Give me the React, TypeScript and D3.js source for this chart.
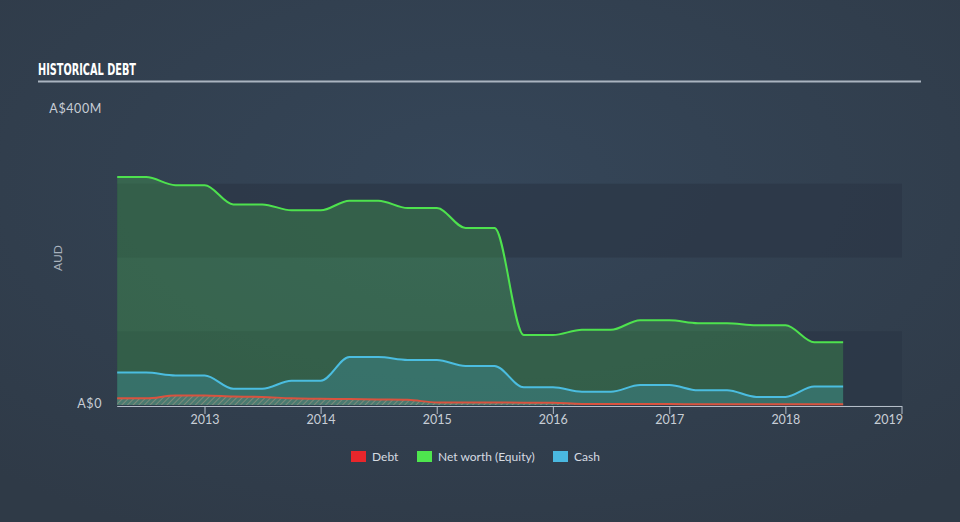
import React from "react";
import * as d3 from "d3";

const dates: string[] = [
  "2012-03-31","2012-06-30","2012-09-30","2012-12-31",
  "2013-03-31","2013-06-30","2013-09-30","2013-12-31",
  "2014-03-31","2014-06-30","2014-09-30","2014-12-31",
  "2015-03-31","2015-06-30","2015-09-30","2015-12-31",
  "2016-03-31","2016-06-30","2016-09-30","2016-12-31",
  "2017-03-31","2017-06-30","2017-09-30","2017-12-31",
  "2018-03-31","2018-06-30",
];
const equity: number[] = [309,309,298,298,272,272,264,264,277,277,267,267,240,240,95,95,102,102,115,115,111,111,108,108,85,85];
const cash: number[] = [44,44,40,40,22,22,33,33,65,65,61,61,53,53,24,24,18,18,27,27,20,20,11,11,25,25];
const debt: number[] = [9,9,13,13,11.5,11,9,8.5,8,7.5,7,3.5,3.5,3.3,3.2,3,1.5,1.5,1.3,1.2,1.1,1,1,1,1,1];
const xTickYears: number[] = [2013,2014,2015,2016,2017,2018,2019];
const darkBands: number[] = [0,200];
const legendItems = [
  { label: "Debt", color: "#e8262b" },
  { label: "Net worth (Equity)", color: "#4ee64e" },
  { label: "Cash", color: "#4ab8e0" },
];

const W = 960, H = 522;
const LABEL_FONT = "Lato, 'Open Sans', sans-serif";

export default function App() {
  const parse = d3.timeParse("%Y-%m-%d");
  const ds = dates.map((d) => parse(d) as Date);
  const x = d3.scaleTime()
    .domain([new Date(2013, 0, 1), new Date(2019, 0, 1)])
    .range([205, 902]);
  const y = d3.scaleLinear().domain([0, 400]).range([405, 110]);
  const curve = d3.curveMonotoneX;

  const mk = (vals: number[]) => {
    const area = d3.area<number>().x((_, i) => x(ds[i])).y0(y(0)).y1((v) => y(v)).curve(curve);
    const line = d3.line<number>().x((_, i) => x(ds[i])).y((v) => y(v)).curve(curve);
    return { area: area(vals) || "", line: line(vals) || "" };
  };
  const eq = mk(equity), ca = mk(cash), de = mk(debt);

  const plotLeft = x(ds[0]);
  const plotRight = x(new Date(2019, 0, 1));

  return (
    <svg width={W} height={H} style={{ position: "absolute", left: 0, top: 0, display: "block" }}>
      <defs>
        <radialGradient id="bg" cx="50%" cy="35%" r="75%">
          <stop offset="0%" stopColor="#354659" />
          <stop offset="100%" stopColor="#2f3a47" />
        </radialGradient>
        <pattern id="hatch" width="4" height="4" patternUnits="userSpaceOnUse" patternTransform="rotate(45)">
          <rect width="4" height="4" fill="#4a7a70" />
          <line x1="0" y1="0" x2="0" y2="4" stroke="#8a8f7e" strokeWidth="1.6" />
        </pattern>
      </defs>
      <rect x={0} y={0} width={W} height={H} fill="url(#bg)" />

      {/* title */}
      <text x={38} y={75} fill="#ffffff" fontFamily="'Liberation Sans Narrow', 'DejaVu Sans Condensed', sans-serif" fontWeight="bold" fontSize={16} textLength={98} lengthAdjust="spacingAndGlyphs">HISTORICAL DEBT</text>
      <line x1={38} x2={921} y1={81.5} y2={81.5} stroke="#aab4c0" strokeWidth={2} />

      {/* bands */}
      {darkBands.map((b) => (
        <rect key={b} x={plotLeft} width={plotRight - plotLeft} y={y(b + 100)} height={y(b) - y(b + 100)}
          fill="#2b3646" opacity={0.7} />
      ))}

      {/* areas */}
      <path d={eq.area} fill="#4ee64e" fillOpacity={0.22} />
      <path d={ca.area} fill="#4ab8e0" fillOpacity={0.22} />
      <path d={de.area} fill="url(#hatch)" />

      {/* lines */}
      <path d={eq.line} fill="none" stroke="#4ee24e" strokeWidth={2} />
      <path d={ca.line} fill="none" stroke="#4bbde0" strokeWidth={2} />
      <path d={de.line} fill="none" stroke="#d9533f" strokeWidth={2} />

      {/* y labels */}
      <text x={102} y={y(400)} dy="0.2em" textAnchor="end" fill="#c8ced6" fontFamily={LABEL_FONT} fontSize={12.5} letterSpacing={0.6}>A$400M</text>
      <text x={102} y={y(0)} dy="0.25em" textAnchor="end" fill="#c8ced6" fontFamily={LABEL_FONT} fontSize={12.5} letterSpacing={0.6}>A$0</text>
      <text transform={`translate(58,258) rotate(-90)`} textAnchor="middle" dy="0.35em" fill="#a9b2bd" fontFamily={LABEL_FONT} fontSize={12}>AUD</text>

      {/* x axis */}
      <line x1={plotLeft} x2={plotRight} y1={406.5} y2={406.5} stroke="#b5bec9" strokeWidth={1} />
      {xTickYears.map((yr) => {
        const xx = x(new Date(yr, 0, 1));
        return (
          <g key={yr}>
            <line x1={xx} x2={xx} y1={406} y2={414} stroke="#b5bec9" strokeWidth={1} />
            <text x={xx} y={420} dy="0.35em" textAnchor={yr === 2019 ? "end" : "middle"} dx={yr === 2019 ? 1 : 0} fill="#c8ced6" fontFamily={LABEL_FONT} fontSize={12.5}>{yr}</text>
          </g>
        );
      })}

      {/* legend */}
      {(() => {
        let cx = 351;
        return legendItems.map((it) => {
          const g = (
            <g key={it.label}>
              <rect x={cx} y={451} width={15} height={11} fill={it.color} />
              <text x={cx + 21} y={456.5} dy="0.35em" fill="#d6dbe1" fontFamily={LABEL_FONT} fontSize={12}>{it.label}</text>
            </g>
          );
          cx += it.label === "Debt" ? 66 : it.label.length > 10 ? 136 : 0;
          return g;
        });
      })()}
    </svg>
  );
}
